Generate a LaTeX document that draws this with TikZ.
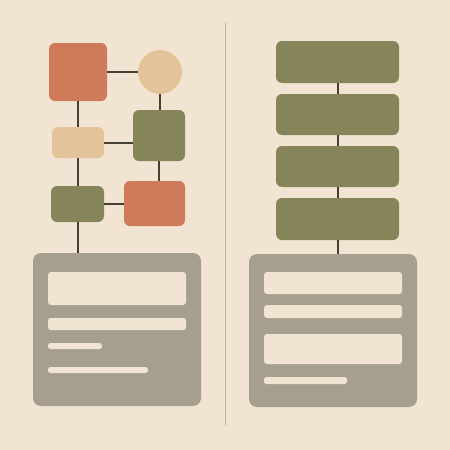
\documentclass[tikz,border=0pt]{standalone}
\definecolor{bg}{HTML}{F2E4D2}
\definecolor{rust}{HTML}{CF7A58}
\definecolor{sand}{HTML}{E3C49A}
\definecolor{olive}{HTML}{868559}
\definecolor{panelgray}{HTML}{A69F8E}
\definecolor{barcol}{HTML}{F2E4D3}
\definecolor{linecol}{HTML}{463F33}
\definecolor{divcol}{HTML}{BDB4A6}
\tikzset{
  box/.style={draw=none, rounded corners=6pt, inner sep=0pt, outer sep=0pt},
  panel/.style={draw=none, fill=panelgray, rounded corners=8pt, inner sep=0pt, outer sep=0pt, minimum width=168pt, minimum height=153pt},
  conn/.style={draw=linecol, line width=2pt},
  bar/.style={fill=barcol, rounded corners=3pt},
  thinbar/.style={fill=barcol, rounded corners=2.5pt},
}
\begin{document}
\begin{tikzpicture}[x=1pt,y=-1pt]
\fill[bg] (0,0) rectangle (450,450);
\useasboundingbox (0,0) rectangle (450,450);
% divider
\draw[divcol, line width=1pt] (225,23) -- (225,425);
% left graph
\node[box, fill=rust, minimum width=58pt, minimum height=58pt] (A) at (78,72) {};
\node[circle, fill=sand, inner sep=0pt, outer sep=0pt, minimum size=44pt] (C) at (160,72) {};
\node[box, fill=sand, minimum width=52pt, minimum height=31pt] (T) at (78,142.5) {};
\node[box, fill=olive, minimum width=52pt, minimum height=51pt] (G) at (159,135.5) {};
\node[box, fill=olive, minimum width=53pt, minimum height=36pt] (S) at (77.5,204) {};
\node[box, fill=rust, minimum width=61pt, minimum height=45pt] (O) at (154.5,203.5) {};
\node[panel] (P1) at (117,329.5) {};
\draw[conn] (A.east) -- (C.west);
\draw[conn] (C.south) -- (C.south |- G.north);
\draw[conn] (T.east) -- (T.east -| G.west);
\draw[conn] (G.south) -- (G.south |- O.north);
\draw[conn] (S.east) -- (S.east -| O.west);
\draw[conn] (A.south) -- (A.south |- T.north);
\draw[conn] (T.south) -- (T.south |- S.north);
\draw[conn] (S.south) -- (S.south |- P1.north);
% left panel bars
\fill[bar] (48,272) rectangle (186,305);
\fill[thinbar] (48,318) rectangle (186,330);
\fill[thinbar] (48,343) rectangle (102,349);
\fill[thinbar] (48,367) rectangle (148,373);
% right stack
\node[box, fill=olive, minimum width=123pt, minimum height=42pt] (R1) at (337.5,62) {};
\node[box, fill=olive, minimum width=123pt, minimum height=41pt] (R2) at (337.5,114.5) {};
\node[box, fill=olive, minimum width=123pt, minimum height=41pt] (R3) at (337.5,166.5) {};
\node[box, fill=olive, minimum width=123pt, minimum height=42pt] (R4) at (337.5,219) {};
\node[panel] (P2) at (333,330.5) {};
\draw[conn] (R1.south) -- (R2.north);
\draw[conn] (R2.south) -- (R3.north);
\draw[conn] (R3.south) -- (R4.north);
\draw[conn] (R4.south) -- (R4.south |- P2.north);
% right panel bars
\fill[bar] (264,272) rectangle (402,294);
\fill[bar] (264,305) rectangle (402,318);
\fill[bar] (264,334) rectangle (402,364);
\fill[thinbar] (264,377) rectangle (347,384);
\end{tikzpicture}
\end{document}
